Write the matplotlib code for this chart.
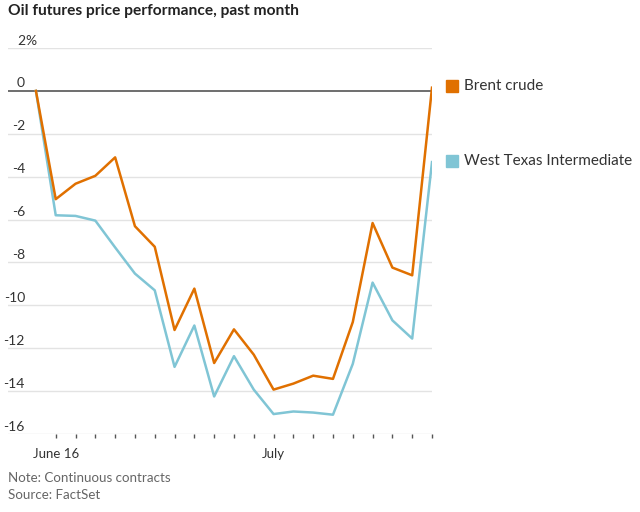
import matplotlib.pyplot as plt

# trading days, June 15 to July 14
day_idx = list(range(21))
tick_pos = list(range(1, 21))
tick_labels = {1: 'June 16', 12: 'July'}

brent = [0.0, -5.05, -4.33, -3.96, -3.1, -6.31, -7.27, -11.15, -9.22, -12.69, -11.12,
         -12.3, -13.93, -13.65, -13.28, -13.43, -10.78, -6.16, -8.24, -8.6, 0.15]
wti = [0.0, -5.8, -5.83, -6.05, -7.3, -8.52, -9.3, -12.87, -10.94, -14.25, -12.37,
       -13.93, -15.07, -14.95, -15.0, -15.1, -12.73, -8.94, -10.7, -11.55, -3.32]
y_ticks = [2, 0, -2, -4, -6, -8, -10, -12, -14, -16]

orange = '#e07000'
teal = '#80c5d5'
plt.rcParams['font.family'] = 'Lato'

fig = plt.figure(figsize=(6.4, 5.12), dpi=100)
W, H = 640, 512
ax = fig.add_axes([8 / W, 1 - 434 / H, 424 / W, 386 / H])
ax.set_xlim(-1.41, 20)
ax.set_ylim(-16, 2)

# gridlines and y labels sitting on them
for v in y_ticks:
    if v == 0:
        ax.axhline(v, color='#555555', lw=1.2, zorder=3)
    else:
        ax.axhline(v, color='#e3e3e3', lw=1.0, zorder=1)
    ax.annotate(str(v), xy=(25 / W, v), xycoords=('figure fraction', 'data'),
                xytext=(0, 2.5), textcoords='offset points', ha='right', va='baseline',
                fontsize=10, color='#333333', annotation_clip=False)
    if v == 2:
        ax.annotate('%', xy=(25 / W, v), xycoords=('figure fraction', 'data'),
                    xytext=(0, 2.5), textcoords='offset points', ha='left', va='baseline',
                    fontsize=10, color='#333333', annotation_clip=False)

ax.plot(day_idx, wti, color=teal, lw=1.8, zorder=4)
ax.plot(day_idx, brent, color=orange, lw=1.8, zorder=5)

for s in ax.spines.values():
    s.set_visible(False)
ax.set_yticks([])
ax.set_xticks(tick_pos)
ax.set_xticklabels([tick_labels.get(p, '') for p in tick_pos])
ax.tick_params(axis='x', length=3, width=1, color='#555555', pad=7,
               labelsize=9.5, labelcolor='#333333')

fig.text(8 / W, 1 - 11 / H, 'Oil futures price performance, past month',
         fontsize=11.2, fontweight='bold', color='#222222', va='center', ha='left')

# legend
fig.patches.append(plt.Rectangle((446 / W, 1 - 92 / H), 12 / W, 12 / H, color=orange,
                                 transform=fig.transFigure, figure=fig))
fig.patches.append(plt.Rectangle((446 / W, 1 - 167 / H), 12 / W, 12 / H, color=teal,
                                 transform=fig.transFigure, figure=fig))
fig.text(464 / W, 1 - 86 / H, 'Brent crude', fontsize=11, color='#333333', va='center')
fig.text(464 / W, 1 - 161 / H, 'West Texas Intermediate', fontsize=11, color='#333333', va='center')

fig.text(8 / W, 1 - 478 / H, 'Note: Continuous contracts', fontsize=9.6, color='#666666', va='center')
fig.text(8 / W, 1 - 495 / H, 'Source: FactSet', fontsize=9.6, color='#666666', va='center')

fig.savefig('out.png', dpi=100)
